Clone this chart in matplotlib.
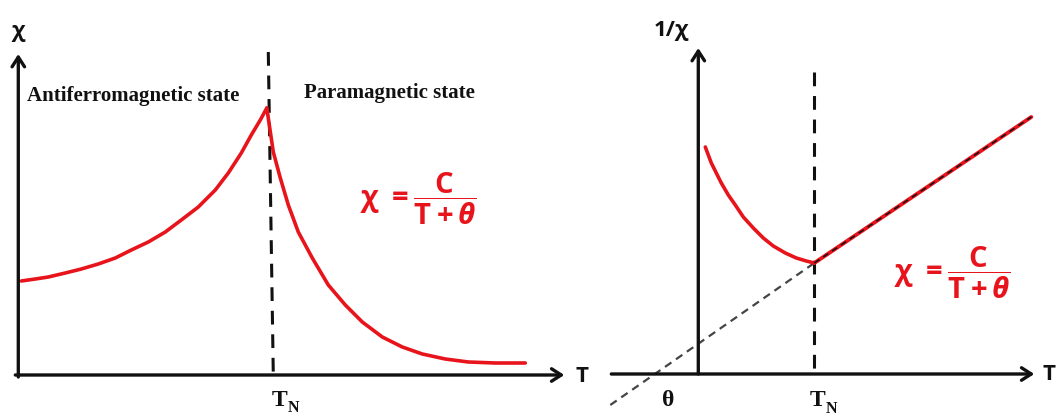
import matplotlib
matplotlib.use("Agg")
from matplotlib import pyplot as plt

# susceptibility of an antiferromagnet (arbitrary units)
T_N_LEFT = 250
T_below = [3, 17, 30, 47, 63, 80, 97, 113, 130, 147, 163, 180, 197, 210,
           223, 233, 242, 248.5]
chi_below = [94, 96, 98, 102, 106, 111, 117, 125, 133, 143, 155, 168, 185,
             202, 222, 240, 255, 267]
T_above = [248.5, 251, 255, 262, 270, 280, 294, 310, 327, 344, 364, 384,
           404, 427, 450, 477, 507]
chi_above = [267, 250, 223, 197, 170, 143, 117, 90, 70, 53, 38, 28, 21, 16,
             13, 12, 12]

# inverse susceptibility
T_N_RIGHT = 116
T_inv_below = [7, 10, 13, 18, 23, 30, 37, 45, 55, 65, 75, 87, 98, 108, 116]
inv_chi_below = [227, 219, 211, 201, 191, 179, 169, 157, 146, 136, 128, 121,
                 116, 113, 111]
T_inv_above = [116, 333]
inv_chi_above = [111, 257]
T_extrap = [-88, 116]
inv_chi_extrap = [-31, 111]
THETA = -45

RED = "#e8141c"
INK = "#111111"
SERIF = "Liberation Serif"
SANS = "Open Sans"

plt.rcParams["mathtext.fontset"] = "custom"
plt.rcParams["mathtext.rm"] = "Open Sans:bold"
plt.rcParams["mathtext.it"] = "Open Sans:italic:bold"
plt.rcParams["mathtext.bf"] = "Open Sans:bold"


def draw_arrow_axes(ax, x0, x1, y0, y1):
    arrow = dict(arrowstyle="->,head_length=0.7,head_width=0.45", lw=2.4,
                 color=INK, shrinkA=0, shrinkB=0)
    ax.annotate("", xy=(x1, 0), xytext=(x0, 0), arrowprops=arrow)
    ax.annotate("", xy=(0, y1), xytext=(0, y0), arrowprops=arrow)


def subscript_label(ax, x, y, main, sub):
    ax.text(x, y, main, family=SERIF, weight="bold", fontsize=17,
            ha="right", va="center", color=INK)
    ax.text(x, y - 8, sub, family=SERIF, weight="bold", fontsize=11.5,
            ha="left", va="center", color=INK)


def formula(ax, x, y):
    ax.text(x, y, r"$\mathrm{\chi}\ =\dfrac{\mathrm{C}}{\mathrm{T}+\theta}$",
            fontsize=21, color=RED, ha="left", va="center")


def setup(ax, xlim, ylim):
    ax.set_xlim(*xlim)
    ax.set_ylim(*ylim)
    ax.axis("off")


def red_curve(ax, x, y, lw=2.6):
    ax.plot(x, y, color=RED, lw=lw, solid_joinstyle="round",
            solid_capstyle="round")


def axis_label(ax, x, y, s):
    ax.text(x, y, s, family=SANS, weight="bold", fontsize=16,
            ha="center", va="center", color=INK)


fig = plt.figure(figsize=(10.56, 4.17), dpi=100)
ax_chi = fig.add_axes([0, 0, 600 / 1056, 1])
ax_inv = fig.add_axes([600 / 1056, 0, 456 / 1056, 1])

# left: chi(T)
setup(ax_chi, (-18.3, 581.7), (-42, 375))
draw_arrow_axes(ax_chi, -3, 546, -2, 321)
ax_chi.plot([T_N_LEFT, T_N_LEFT + 5], [323, 0], color=INK, lw=2.2,
            dashes=(4.5, 3.2))
red_curve(ax_chi, T_below, chi_below)
red_curve(ax_chi, T_above, chi_above)
axis_label(ax_chi, 0, 344, "χ")
axis_label(ax_chi, 564, -1, "T")
ax_chi.text(9, 279, "Antiferromagnetic state", family=SERIF, weight="bold",
            fontsize=15, ha="left", va="center", color=INK)
ax_chi.text(286, 282, "Paramagnetic state", family=SERIF, weight="bold",
            fontsize=15, ha="left", va="center", color=INK)
subscript_label(ax_chi, T_N_LEFT + 19, -25, "T", "N")
formula(ax_chi, 342, 176)

# right: 1/chi(T)
setup(ax_inv, (-98.3, 357.7), (-43, 374))
draw_arrow_axes(ax_inv, -87, 336, 0, 326)
ax_inv.plot([T_N_RIGHT, T_N_RIGHT], [302, 0], color=INK, lw=2.2,
            dashes=(4.5, 3.2))
ax_inv.plot(T_extrap, inv_chi_extrap, color="#444444", lw=1.6,
            dashes=(3.5, 2.5))
red_curve(ax_inv, T_inv_below, inv_chi_below)
red_curve(ax_inv, T_inv_above, inv_chi_above, lw=2.8)
ax_inv.plot(T_inv_above, inv_chi_above, color=INK, lw=1.1, dashes=(4, 3))
axis_label(ax_inv, -27, 344, "1/χ")
axis_label(ax_inv, 351, 0, "T")
ax_inv.text(THETA + 15, -27, "θ", family=SERIF, weight="bold", fontsize=17,
            ha="center", va="center", color=INK)
subscript_label(ax_inv, T_N_RIGHT + 11, -27, "T", "N")
formula(ax_inv, 196, 101)

fig.savefig("out.png", dpi=100)
